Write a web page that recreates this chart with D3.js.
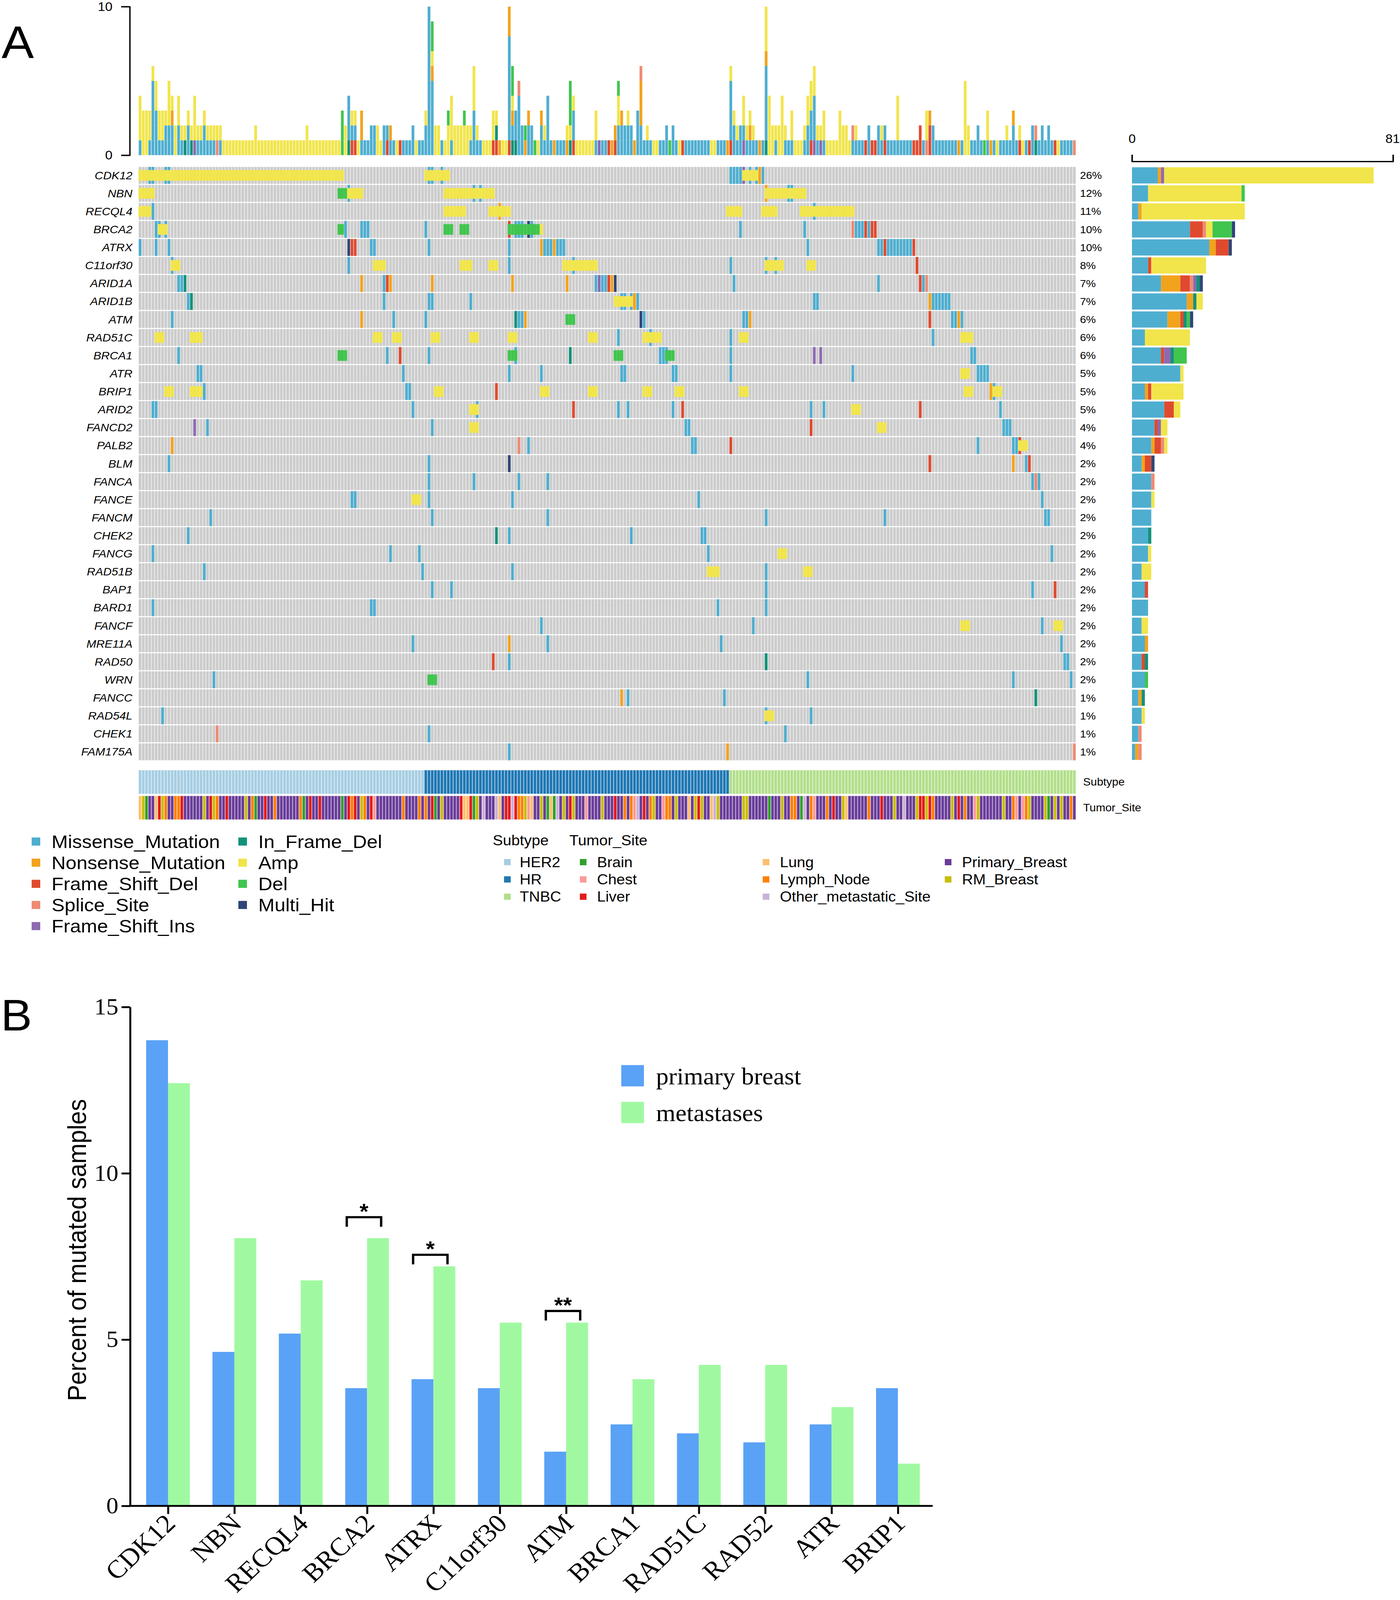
<!DOCTYPE html>
<html lang="en">
<head>
<meta charset="UTF-8">
<title>HRR gene oncoplot and mutation frequency</title>
<script src="https://cdnjs.cloudflare.com/ajax/libs/d3/7.8.5/d3.min.js"></script>
<style>
  html, body { margin: 0; padding: 0; background: #fff; overflow: hidden; }
  svg { display: block; }
</style>
</head>
<body>
<div id="chart"></div>
<script>
// ---------- panel A data ----------
const genes = ["CDK12","NBN","RECQL4","BRCA2","ATRX","C11orf30","ARID1A","ARID1B","ATM","RAD51C","BRCA1",
  "ATR","BRIP1","ARID2","FANCD2","PALB2","BLM","FANCA","FANCE","FANCM","CHEK2","FANCG","RAD51B","BAP1",
  "BARD1","FANCF","MRE11A","RAD50","WRN","FANCC","RAD54L","CHEK1","FAM175A"];
const genePct = ["26%","12%","11%","10%","10%","8%","7%","7%","6%","6%","6%","5%","5%","5%","4%","4%",
  "2%","2%","2%","2%","2%","2%","2%","2%","2%","2%","2%","2%","2%","1%","1%","1%","1%"];

// per gene: "col:type" or "from-to:type"; M N F S I D H = SNV types, A / L = copy number
const alterations = [
  "0-63:A 3:MA 4:MA 8:MA 9:MA 89-96:A 90:MA 91:MA 94:MA 184-187:M 188:IA 189:A 190:MA 191:A 192:MA 193:N 194:M",
  "0-4:A 62-64:L 65-69:A 65:MA 95-110:A 104:MA 106:MA 195-207:A 195:NA 202:MA 203:MA",
  "0-3:A 4:M 95-101:A 109-115:A 112:NA 183-187:A 194-198:A 206-222:A 210:MA",
  "5:M 6:MA 7:A 8:MA 62-63:L 64:M 69-71:M 89:M 95-97:L 100-102:L 115-124:L 115:FL 117:ML 118:ML 119:ML 121:HL 122:ML 125:A 187:M 207:M 222:S 223-225:M 226:F 227:M 228-229:F",
  "0:M 5:M 9:M 65:H 66-67:F 72-73:M 90:M 115:M 125:N 126-128:M 129:N 130-132:M 208:M 230-231:M 232:F 233-240:M 241:F",
  "10:MA 11-12:A 65:M 73-76:A 100-103:A 109-111:A 115:M 132-142:A 135:MA 184:M 195-200:A 195:MA 198:MA 208-210:A 242:F",
  "12-13:M 14:D 69:N 76:M 77:F 78:N 91:N 116:N 133:N 142:M 143:I 144-145:M 146:F 147:N 148:H 185:M 230:M 243:F 244:M 245:S",
  "15:M 16:D 76:M 90-91:M 103:M 148-149:A 150:MA 151:MA 152:A 153:MA 154:N 155:M 210-211:M 246:N 247-252:M",
  "10:M 69:N 79:M 89:M 117:D 118-119:M 120:N 133-135:L 156:H 157:M 188-189:M 190:N 246:F 253-254:M 255:N 256:M",
  "5-7:A 16-19:A 73-75:A 79-81:A 91-93:A 103-105:A 115-117:A 140-142:A 149:M 157-162:A 159:MA 184:M 187-189:A 247:M 256-259:A",
  "12:M 62-64:L 77:M 81:F 90:M 115-116:L 117:ML 134:D 148-150:L 162-163:M 164:ML 165-166:L 184:M 210:I 212:I 259-260:M",
  "18-19:M 82:M 115:M 125:M 150-151:M 166-167:M 184:M 222:M 256-258:A 261-264:M",
  "8-10:A 16-19:A 20:M 83-84:M 92-94:A 111:F 125-127:A 140-142:A 157-159:A 167-169:A 187-189:A 257-259:A 265:N 266:MA 267-268:A",
  "4-5:M 85:M 103-104:A 105:MA 135:F 149:M 152:M 166:M 169:F 209:M 213:M 222-224:A 243:F 268:M",
  "17:I 21:M 91:M 103-105:A 170-171:M 209:F 230-232:A 269-271:M",
  "10:N 118:S 121:M 172-173:M 184:F 261:M 272-273:M 274:FA 275-276:A",
  "9:M 90:M 115:H 246:F 272:N 276:M 277:F",
  "90:M 104:M 118:M 127:M 278:M 279:S 280:M",
  "66-67:M 85-87:A 90:M 116:M 174:M 281:M",
  "22:M 91:M 127:M 195:M 232:M 282-283:M",
  "15:M 111:D 115:M 153:M 175-176:M",
  "4:M 78:M 87:M 177:M 199-201:A 284:M",
  "20:M 88:M 116:M 177-180:A 195:M 207-209:A",
  "91:M 97:M 195:M 278:M 285:F",
  "4:M 72-73:M 180:M 195:M",
  "125:M 191:M 256-258:A 281:M 285-287:A",
  "85:M 115:N 127:M 181:M 287:M",
  "110:F 115:M 195:D 288-289:M",
  "23:M 90-92:L 208:M 272:M 290:M",
  "150:N 152:M 182:M 279:D",
  "7:M 195:MA 196-197:A 209:M",
  "24:S 90:M 201:M",
  "115:M 183:N 291:S"
];

// top bar: one token per sample, one letter per stacked unit (bottom to top)
const topBars = [
  "MAAA AAA AAA MAA MMMMMA MMMAA MAA MAA MMA MMAAA",
  "MMNA AA MMAA MA DA MMA DA IAAA MA MA",
  "MMA MA MA MA SA MA A A A A",
  "A A A A A A AA A A A",
  "A A A A A A A A A A",
  "A A AA A A A A A A A",
  "A A A LLL AA DMMM FMA FMA A MNN",
  "M M MM MM AA A MM FM MN M",
  "A F M M M MM A M M MMA",
  "MMMMMMMMMM MMMMMNALL AA AA M A AAL MAAA AA AA",
  "AA AAL AA MA MMMAAA MA M A A A",
  "FAA FDA N A A FMMMMMMMNN DMNALL DMM MMMMS MM",
  "NL MMN MM L A MMN MA MMMM M N",
  "M M M NA DALLL FMMA A A A A",
  "A A MAA I M M F N FN MMAAL",
  "MMN MM MMA MM N MMM MMNNNS M MA M",
  "A A M M MM L MM M A F",
  "M M M M M M M M A A",
  "M M M N FMMMMA MMA MA MM IMAA MA",
  "MNA MA M N M DMMMMMNAAA AAAA AA MA AA",
  "AAAA MA M MAA A A A MA MMAA FMMAA",
  "IMMMAA MA IA MAA A A A A AAA AA",
  "AA A MS MA M M F MM F F",
  "MM MA FM M M M MAAA M M M",
  "M F F FF M SAA FFN MM M M",
  "M M M M M N M AAAAA AA M",
  "M MM M L MAA N M A M M",
  "MA M MMN M FA A M F MM DS",
  "M MM M MM M F A M M M",
  "M S"
];

// right bar: counts per variant type per gene
const rbM = [8,5,2,18,24,5,9,17,11,4,9,15,4,10,7,6,3,6,6,6,5,5,3,4,5,3,4,3,4,2,3,2,1];
const rbN = [1,0,1,0,2,0,6,2,4,0,0,0,1,0,0,1,1,0,0,0,0,0,0,0,0,0,1,0,0,1,0,0,1];
const rbF = [0,0,0,4,4,1,3,0,1,0,1,0,1,3,1,2,2,0,0,0,0,0,0,1,0,0,0,1,0,0,0,0,0];
const rbS = [0,0,0,1,0,0,1,0,0,0,0,0,0,0,0,1,0,1,0,0,0,0,0,0,0,0,0,0,0,0,0,1,1];
const rbI = [1,0,0,0,0,0,1,0,0,0,2,0,0,0,1,0,0,0,0,0,0,0,0,0,0,0,0,0,0,0,0,0,0];
const rbD = [0,0,0,0,0,0,1,1,1,0,1,0,0,0,0,0,0,0,0,0,1,0,0,0,0,0,0,1,0,1,0,0,0];
const rbA = [65,29,32,2,0,17,0,2,0,14,0,1,10,2,2,1,0,0,1,0,0,1,3,0,0,2,0,0,0,0,1,0,0];
const rbL = [0,1,0,6,0,0,0,0,1,0,4,0,0,0,0,0,0,0,0,0,0,0,0,0,0,0,0,0,1,0,0,0,0];
const rbH = [0,0,0,1,1,0,1,0,1,0,0,0,0,0,0,0,1,0,0,0,0,0,0,0,0,0,0,0,0,0,0,0,0];
const rbMax = 81;

const subtypeNames = ["HER2","HR","TNBC"];
const subtypeCounts = [89, 95, 108];
const tumorSite = [
  "LRBPPLVRNP","PNNVPPPPPP","RPVRNPPVPP","PPPRPNBPPV","PPNPPPPPPP","NBPVPPVPPP","PPPBPVNVPR",
  "NPVCPPPPPP","PPNPPPPNPN","PVBPRPPPPP","VLLVBRPOPP","POLPVVOVNN","RCLPPRPBLB","OPRPVRPPPC",
  "PPPPRPPPVP","PNPNCOPVPN","RPPCNNPRPP","PLPRVRPPLO","RPPPPPPPRR","PPPPPPBPPP","RPPNNPBOPN",
  "CPPPNPVPPR","LPPPPPPNPP","PVPPPRPPOP","PPRVVRVNPP","PPPRPVPNPP","CRPPPPPPPR","PPNCPCNRPP",
  "PPRBPRPRPP","NP"
].join("");

const typeCodes = ["M","N","F","S","I","D","A","L","H"];
const typeNames = ["Missense_Mutation","Nonsense_Mutation","Frame_Shift_Del","Splice_Site","Frame_Shift_Ins",
  "In_Frame_Del","Amp","Del","Multi_Hit"];
const typeColors = ["#4eaed0","#f2a31c","#df4a2f","#ef8a72","#8d6ab1","#12927a","#f1e54b","#40c54e","#2f4677"];

const subtypeColors = ["#a6cee3","#1f78b4","#b2df8a"];
const siteCodes = ["B","C","V","L","N","O","P","R"];
const siteNames = ["Brain","Chest","Liver","Lung","Lymph_Node","Other_metastatic_Site","Primary_Breast","RM_Breast"];
const siteColors = ["#33a02c","#fb9a99","#e31a1c","#fdbf6f","#ff7f00","#cab2d6","#6a3d9a","#c9bd04"];

// ---------- panel B data ----------
const bGenes = ["CDK12","NBN","RECQL4","BRCA2","ATRX","C11orf30","ATM","BRCA1","RAD51C","RAD52","ATR","BRIP1"];
const bPrimary = [14.0, 4.63, 5.18, 3.54, 3.81, 3.54, 1.63, 2.45, 2.18, 1.91, 2.45, 3.54];
const bMeta = [12.71, 8.05, 6.78, 8.05, 7.20, 5.51, 5.51, 3.81, 4.24, 4.24, 2.97, 1.27];
const bSeries = ["primary breast", "metastases"];
const bColors = ["#5aa2f6", "#a0f9a0"];
const sigGenes = ["BRCA2","ATRX","ATM"];
const sigLevel = [8.68, 7.55, 5.86];
const sigText = ["*","*","**"];

// ---------- drawing ----------
const SANS = '"Liberation Sans", Arial, Helvetica, sans-serif';
const SERIF = '"Liberation Serif", "Times New Roman", Times, serif';
const W = 3583, H = 4352;

// fit the whole figure into the visible window
const vw = window.innerWidth > 500 ? window.innerWidth : W;
const vh = window.innerHeight > 500 ? window.innerHeight : H;

const svg = d3.select("#chart").append("svg")
  .attr("width", vw).attr("height", vh)
  .attr("viewBox", `0 0 ${W} ${H}`)
  .attr("preserveAspectRatio", "none")
  .style("font-family", SANS);
svg.append("rect").attr("width", W).attr("height", H).attr("fill", "#fff");

const typeColor = d3.scaleOrdinal(typeCodes, typeColors);
const siteColor = d3.scaleOrdinal(siteCodes, siteColors);
const subColor = d3.scaleOrdinal(subtypeNames, subtypeColors);

function parseAlt(str) {
  const m = new Map();
  str.split(" ").forEach(tok => {
    const [range, t] = tok.split(":");
    const [a, b] = range.split("-").map(Number);
    const end = (b === undefined || isNaN(b)) ? a : b;
    for (let c = a; c <= end; c++) m.set(c, t);
  });
  return m;
}

const N = tumorSite.length;
const xCol = d3.scaleBand().domain(d3.range(N)).range([355, 2753]).paddingInner(0.15);
const step = xCol.step();
const yRow = d3.scaleBand().domain(genes).range([454, 2068]).paddingInner(0.06);
const rowH = yRow.bandwidth();

svg.append("text").attr("x", 4).attr("y", 158).attr("font-size", 124).text("A");

// top barplot
const topTokens = topBars.join(" ").split(" ");
const topSegs = [];
topTokens.forEach((tok, c) => tok.split("").forEach((t, k) => topSegs.push({c, k, t})));
const yTop = d3.scaleLinear().domain([0, 10]).range([422, 18]);

svg.append("g").selectAll("rect").data(topSegs).join("rect")
  .attr("x", d => xCol(d.c)).attr("width", xCol.bandwidth())
  .attr("y", d => yTop(d.k + 1)).attr("height", d => yTop(d.k) - yTop(d.k + 1))
  .attr("fill", d => typeColor(d.t));

const topAxis = svg.append("g").attr("transform", "translate(332,0)")
  .call(d3.axisLeft(yTop).tickValues([0, 10]).tickSize(22).tickPadding(22));
topAxis.selectAll("path, line").attr("stroke", "#000").attr("stroke-width", 3.5);
topAxis.selectAll("text").attr("font-size", 34).attr("font-family", SANS);

// oncoplot grid
const rows = svg.append("g").selectAll("g").data(genes).join("g")
  .attr("transform", d => `translate(0,${yRow(d)})`);
rows.selectAll("rect").data(d3.range(N)).join("rect")
  .attr("x", c => xCol(c)).attr("width", xCol.bandwidth())
  .attr("y", 0).attr("height", rowH).attr("fill", "#cccccc");

const snvCells = [], cnvCells = [];
genes.forEach((g, gi) => {
  parseAlt(alterations[gi]).forEach((t, c) => {
    const s = t.replace(/[AL]/g, "");
    const v = t.match(/[AL]/);
    if (s) snvCells.push({g, c, t: s});
    if (v) cnvCells.push({g, c, t: v[0]});
  });
});

svg.append("g").selectAll("rect").data(snvCells).join("rect")
  .attr("x", d => xCol(d.c)).attr("width", xCol.bandwidth())
  .attr("y", d => yRow(d.g)).attr("height", rowH)
  .attr("fill", d => typeColor(d.t));

const cnvH = 29;
svg.append("g").selectAll("rect").data(cnvCells).join("rect")
  .attr("x", d => xCol(d.c) - (step - xCol.bandwidth()) / 2).attr("width", step)
  .attr("y", d => yRow(d.g) + rowH / 2 - cnvH / 2).attr("height", cnvH)
  .attr("fill", d => typeColor(d.t));

// gene names and percentages
svg.append("g").selectAll("text").data(genes).join("text")
  .attr("x", 339).attr("y", d => yRow(d) + rowH / 2)
  .attr("text-anchor", "end").attr("dominant-baseline", "central")
  .attr("font-size", 30).attr("font-style", "italic").text(d => d);

svg.append("g").selectAll("text").data(genes).join("text")
  .attr("x", 2764).attr("y", d => yRow(d) + rowH / 2)
  .attr("dominant-baseline", "central").attr("font-size", 28)
  .text((d, i) => genePct[i]);

// right barplot
const rbByType = {M: rbM, N: rbN, F: rbF, S: rbS, I: rbI, D: rbD, A: rbA, L: rbL, H: rbH};
const rbSegs = [];
genes.forEach((g, gi) => {
  let acc = 0;
  typeCodes.forEach(t => {
    const v = rbByType[t][gi];
    if (v > 0) { rbSegs.push({g, t, x0: acc, x1: acc + v}); acc += v; }
  });
});
const xRight = d3.scaleLinear().domain([0, rbMax]).range([2897, 3565]);
const rbBarH = 44;
svg.append("g").selectAll("rect").data(rbSegs).join("rect")
  .attr("x", d => xRight(d.x0)).attr("width", d => xRight(d.x1) - xRight(d.x0))
  .attr("y", d => yRow(d.g) + rowH / 2 - rbBarH / 2).attr("height", rbBarH)
  .attr("fill", d => typeColor(d.t));

const rAxis = svg.append("g").attr("transform", "translate(0,439)")
  .call(d3.axisTop(xRight).tickValues([0, rbMax]).tickSize(18).tickPadding(32));
rAxis.selectAll("path, line").attr("stroke", "#000").attr("stroke-width", 3.5);
rAxis.selectAll("text").attr("font-size", 33).attr("font-family", SANS);
rAxis.selectAll(".tick text").filter(d => d === rbMax).attr("text-anchor", "end").attr("dx", 17);

// annotation tracks
const subtypeOf = [];
subtypeNames.forEach((s, i) => { for (let k = 0; k < subtypeCounts[i]; k++) subtypeOf.push(s); });

svg.append("g").selectAll("rect").data(d3.range(N)).join("rect")
  .attr("x", c => xCol(c)).attr("width", xCol.bandwidth())
  .attr("y", 2095).attr("height", 64).attr("fill", c => subColor(subtypeOf[c]));
svg.append("g").selectAll("rect").data(d3.range(N)).join("rect")
  .attr("x", c => xCol(c)).attr("width", xCol.bandwidth())
  .attr("y", 2165).attr("height", 64).attr("fill", c => siteColor(tumorSite[c]));

svg.append("text").attr("x", 2772).attr("y", 2127).attr("dominant-baseline", "central")
  .attr("font-size", 29).text("Subtype");
svg.append("text").attr("x", 2772).attr("y", 2197).attr("dominant-baseline", "central")
  .attr("font-size", 29).text("Tumor_Site");

// legend: variant classification
const legMut = svg.append("g").selectAll("g").data(typeNames).join("g")
  .attr("transform", (d, i) => `translate(${i < 5 ? 81 : 610},${2289 + 57.5 * (i < 5 ? i : i - 5)})`);
legMut.append("rect").attr("x", 0).attr("y", -11).attr("width", 22).attr("height", 22)
  .attr("fill", (d, i) => typeColors[i]);
legMut.append("text").attr("x", 51).attr("dominant-baseline", "central")
  .attr("font-size", 50).text(d => d);

// legend: annotations
svg.append("text").attr("x", 1261).attr("y", 2286).attr("dominant-baseline", "central")
  .attr("font-size", 39).text("Subtype");
svg.append("text").attr("x", 1457).attr("y", 2286).attr("dominant-baseline", "central")
  .attr("font-size", 39).text("Tumor_Site");

const legRowY = [2345, 2392, 2439];
const legSub = svg.append("g").selectAll("g").data(subtypeNames).join("g")
  .attr("transform", (d, i) => `translate(1290,${legRowY[i]})`);
legSub.append("rect").attr("y", -8.5).attr("width", 17).attr("height", 17)
  .attr("fill", d => subColor(d));
legSub.append("text").attr("x", 40).attr("dominant-baseline", "central")
  .attr("font-size", 39).text(d => d);

const siteColX = [1484, 1952, 2418];
const legSite = svg.append("g").selectAll("g").data(siteNames).join("g")
  .attr("transform", (d, i) => `translate(${siteColX[Math.floor(i / 3)]},${legRowY[i % 3]})`);
legSite.append("rect").attr("y", -8.5).attr("width", 17).attr("height", 17)
  .attr("fill", (d, i) => siteColors[i]);
legSite.append("text").attr("x", 44).attr("dominant-baseline", "central")
  .attr("font-size", 39).text(d => d);

// ---------- panel B ----------
svg.append("text").attr("x", 2).attr("y", 2803).attr("font-size", 120).text("B");

const xB = d3.scalePoint().domain(bGenes).range([430, 2298]);
const yB = d3.scaleLinear().domain([0, 15]).range([4096, 2739]);
const barW = 56;

const bBars = [];
bGenes.forEach((g, i) => {
  bBars.push({g, s: 0, v: bPrimary[i]});
  bBars.push({g, s: 1, v: bMeta[i]});
});
svg.append("g").selectAll("rect").data(bBars).join("rect")
  .attr("x", d => xB(d.g) + (d.s === 0 ? -barW : 0)).attr("width", barW)
  .attr("y", d => yB(d.v)).attr("height", d => yB(0) - yB(d.v))
  .attr("fill", d => bColors[d.s]);

const yAxB = svg.append("g").attr("transform", "translate(333,0)")
  .call(d3.axisLeft(yB).tickValues([0, 5, 10, 15]).tickSize(22).tickSizeOuter(0).tickPadding(8));
yAxB.selectAll("path, line").attr("stroke", "#000").attr("stroke-width", 5);
yAxB.selectAll("text").attr("font-size", 62).attr("font-family", SERIF);

const xAxB = svg.append("g").attr("transform", "translate(0,4096)")
  .call(d3.axisBottom(xB).tickSize(22).tickSizeOuter(0));
xAxB.select(".domain").remove();
xAxB.selectAll("line").attr("stroke", "#000").attr("stroke-width", 5);
xAxB.selectAll("text")
  .attr("font-size", 70).attr("font-family", SERIF)
  .attr("text-anchor", "end").attr("dy", null).attr("y", 0)
  .attr("transform", "translate(22,52) rotate(-45)");
svg.append("line").attr("x1", 331).attr("x2", 2387).attr("y1", 4096).attr("y2", 4096)
  .attr("stroke", "#000").attr("stroke-width", 5);

svg.append("text")
  .attr("transform", "translate(220,3400) rotate(-90)")
  .attr("text-anchor", "middle").attr("font-size", 66)
  .text("Percent of mutated samples");

// significance brackets
const sig = svg.append("g").selectAll("g").data(sigGenes).join("g");
sig.append("path")
  .attr("d", (g, i) => {
    const cx = xB(g), y = yB(sigLevel[i]);
    return `M${cx - 52},${y + 26}V${y}H${cx + 36}V${y + 26}`;
  })
  .attr("fill", "none").attr("stroke", "#000").attr("stroke-width", 6);
sig.append("text")
  .attr("x", g => xB(g) - 8).attr("y", (g, i) => yB(sigLevel[i]) + 4)
  .attr("text-anchor", "middle").attr("font-size", 58).attr("font-weight", "bold")
  .text((g, i) => sigText[i]);

// legend B
const legB = svg.append("g").selectAll("g").data(bSeries).join("g")
  .attr("transform", (d, i) => `translate(1590,${2897 + 100 * i})`);
legB.append("rect").attr("width", 58).attr("height", 58).attr("fill", (d, i) => bColors[i]);
legB.append("text").attr("x", 89).attr("y", 31).attr("dominant-baseline", "central")
  .attr("font-size", 64).attr("font-family", SERIF).text(d => d);
</script>
</body>
</html>
